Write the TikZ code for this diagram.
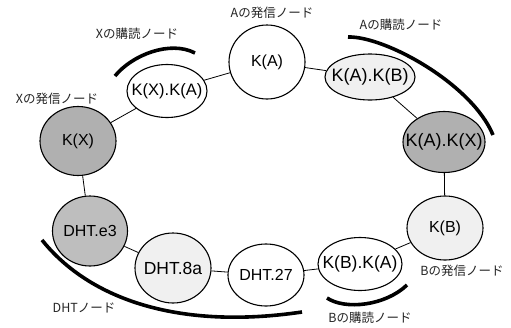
\documentclass[tikz,border=0pt]{standalone}
\usepackage{fontspec}
\setmainfont{Liberation Sans}
\newfontfamily\jpfont{Noto Sans CJK JP}
\usetikzlibrary{shapes.geometric}
\definecolor{lightg}{HTML}{F0F0F0}
\definecolor{midg}{HTML}{B0B0B0}
\definecolor{dhtg}{HTML}{BEBEBE}
\newcommand{\zw}[1]{\makebox[0pt]{#1}}
\tikzset{
  knode/.style={ellipse, draw=black, line width=1.1pt, inner sep=0pt, font=\fontsize{16}{16}\selectfont},
  lbl/.style={font=\jpfont\fontsize{12.5}{13}\selectfont, text=black!85, inner sep=0pt},
  link/.style={line width=0.8pt, black},
  subarc/.style={line width=3.6pt, black},
}
\begin{document}
\begin{tikzpicture}[x=1pt,y=-1pt]
\useasboundingbox (0,0) rectangle (511,327);
\fill[white] (0,0) rectangle (511,327);
% nodes
\node[knode, fill=white, minimum width=76pt, minimum height=74pt] (ka) at (267,62) {\zw{K(A)}};
\node[knode, fill=lightg, minimum width=90pt, minimum height=46pt, font=\fontsize{18}{18}\selectfont] (kakb) at (370,77) {\zw{K(A).K(B)}};
\node[knode, fill=midg, minimum width=82pt, minimum height=61pt, font=\fontsize{18}{18}\selectfont] (kakx) at (444,142) {\zw{K(A).K(X)}};
\node[knode, fill=lightg, minimum width=76pt, minimum height=64pt] (kb) at (445,228) {\zw{K(B)}};
\node[knode, fill=white, minimum width=84pt, minimum height=53pt, font=\fontsize{17.5}{17.5}\selectfont] (kbka) at (360,264) {\zw{K(B).K(A)}};
\node[knode, fill=white, minimum width=76pt, minimum height=62pt] (d27) at (266,275) {\zw{DHT.27}};
\node[knode, fill=lightg, minimum width=76pt, minimum height=70pt, font=\fontsize{17.5}{17.5}\selectfont] (d8a) at (173,268) {\zw{DHT.8a}};
\node[knode, fill=dhtg, minimum width=75pt, minimum height=70pt] (de3) at (90,231) {\zw{DHT.e3}};
\node[knode, fill=midg, minimum width=76pt, minimum height=69pt] (kx) at (78,141) {\zw{K(X)}};
\node[knode, fill=white, minimum width=80pt, minimum height=53pt, font=\fontsize{16.5}{16.5}\selectfont] (kxka) at (167,91) {\zw{K(X).K(A)}};
% links
\draw[link] (kx) -- (kxka);
\draw[link] (kxka) -- (ka);
\draw[link] (ka) -- (kakb);
\draw[link] (kakb) -- (kakx);
\draw[link] (kakx) -- (kb);
\draw[link] (kb) -- (kbka);
\draw[link] (kbka) -- (d27);
\draw[link] (d27) -- (d8a);
\draw[link] (d8a) -- (de3);
\draw[link] (de3) -- (kx);
% subscription arcs
\coordinate (xs1) at (115,76); \coordinate (xs2) at (195,53);
\draw[subarc] (xs1) .. controls (132,55) and (170,40) .. (xs2);
\coordinate (as1) at (348,37); \coordinate (as2) at (493,135);
\draw[subarc] (as1) .. controls (385,36) and (472,84) .. (as2);
\coordinate (bs1) at (327,298); \coordinate (bs2) at (407,285);
\draw[subarc] (bs1) .. controls (345,310) and (385,306) .. (bs2);
\coordinate (ds1) at (42,240); \coordinate (ds2) at (302,312);
\draw[subarc] (ds1) .. controls (90,300) and (180,330) .. (ds2);
% labels
\node[lbl] (la) at (272,13) {Aの発信ノード};
\node[lbl] (lxs) at (137,34) {Xの購読ノード};
\node[lbl] (lxp) at (57,99) {Xの発信ノード};
\node[lbl] (las) at (401,25) {Aの購読ノード};
\node[lbl] (lbp) at (462,271) {Bの発信ノード};
\node[lbl] (lbs) at (370,318) {Bの購読ノード};
\node[lbl] (ld) at (84,308) {DHTノード};
\end{tikzpicture}
\end{document}
